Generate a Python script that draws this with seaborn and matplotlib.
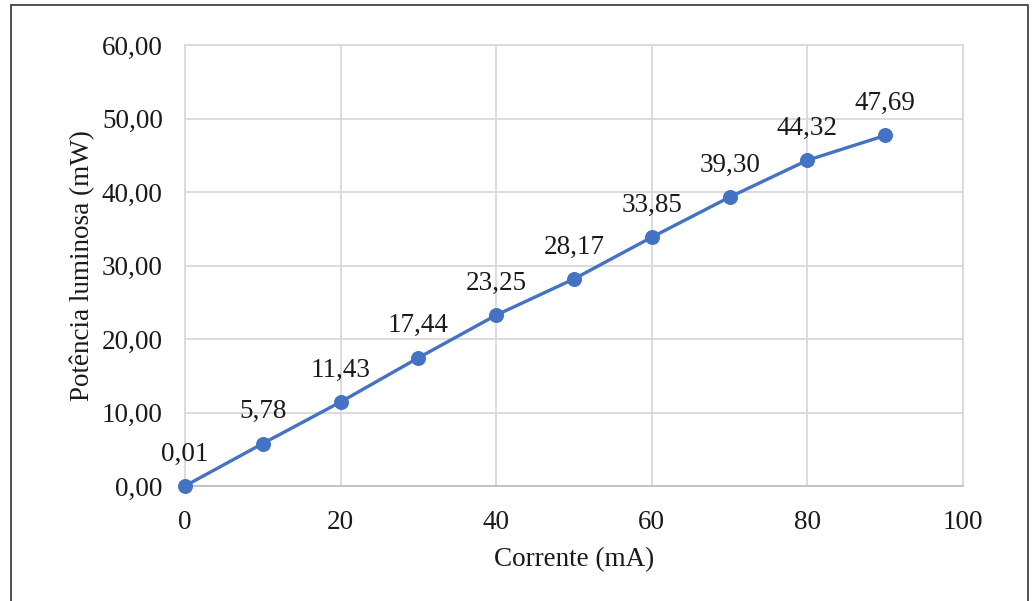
import matplotlib
matplotlib.use("Agg")
import matplotlib.pyplot as plt
import seaborn as sns
import pandas as pd
from matplotlib.ticker import FuncFormatter
from matplotlib.patches import Rectangle

corrente = [0, 10, 20, 30, 40, 50, 60, 70, 80, 90]
potencia = [0.01, 5.78, 11.43, 17.44, 23.25, 28.17, 33.85, 39.30, 44.32, 47.69]
x_ticks = [0, 20, 40, 60, 80, 100]
y_ticks = [0, 10, 20, 30, 40, 50, 60]

sns.set_theme(style="white")
plt.rcParams['font.family'] = ['Liberation Serif', 'DejaVu Serif']

df = pd.DataFrame({"Corrente": corrente, "Potencia": potencia})

fig = plt.figure(figsize=(10.34, 6.01), dpi=100)
ax = fig.add_axes([185/1034, 1-486/601, (963-185)/1034, (486-45)/601])

sns.lineplot(data=df, x="Corrente", y="Potencia", ax=ax, color="#4472C4",
             linewidth=2.4, marker="o", markersize=10, markeredgecolor="#4472C4",
             zorder=3, clip_on=False)

for xv, yv in zip(corrente, potencia):
    ax.annotate(f"{yv:.2f}".replace(".", ","), (xv, yv), xytext=(0, 14),
                textcoords="offset points", ha="center", va="bottom",
                fontsize=19.5, color="#1a1a1a")

ax.set_xlim(0, 100)
ax.set_ylim(0, 60)
ax.set_xticks(x_ticks)
ax.set_yticks(y_ticks)
ax.yaxis.set_major_formatter(FuncFormatter(lambda v, p: f"{v:.2f}".replace(".", ",")))
ax.xaxis.set_major_formatter(FuncFormatter(lambda v, p: f"{int(v)}"))
ax.tick_params(axis="y", labelsize=19.5, colors="#1a1a1a", length=0, pad=16)
ax.tick_params(axis="x", labelsize=19.5, colors="#1a1a1a", length=0, pad=17)
ax.grid(True, color="#D9D9D9", linewidth=1.3)
for s in ax.spines.values():
    s.set_color("#D9D9D9")
    s.set_linewidth(1.3)
ax.spines["bottom"].set_color("#BFBFBF")
ax.set_xlabel("Corrente (mA)", fontsize=19.5, color="#1a1a1a", labelpad=9)
ax.set_ylabel("Potência luminosa (mW)", fontsize=19.5, color="#1a1a1a", labelpad=5)

# outer frame
fig.patches.append(Rectangle((11/1034, -0.01), (1028-11)/1034, 1-5/601 + 0.01,
                             transform=fig.transFigure, fill=False,
                             edgecolor="#444444", linewidth=1.3))

fig.savefig("out.png", dpi=100)
